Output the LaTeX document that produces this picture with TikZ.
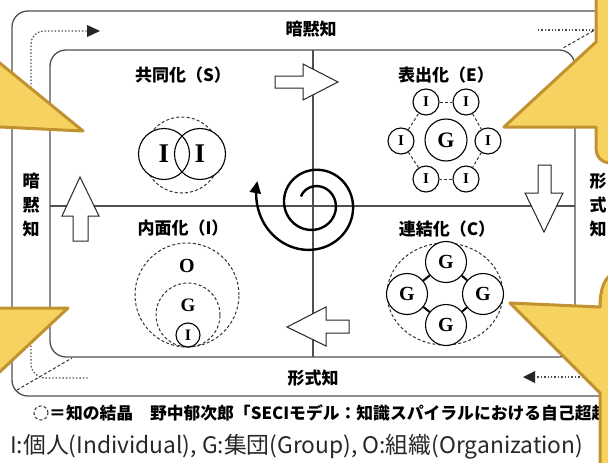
\documentclass[tikz,border=0pt]{standalone}
\usepackage{fontspec}
\newfontfamily\jp{Noto Sans CJK JP}
\newfontfamily\tms{Liberation Serif}
\usetikzlibrary{arrows.meta,shapes.geometric}
\definecolor{framec}{RGB}{80,80,80}
\definecolor{yfill}{RGB}{246,210,96}
\definecolor{ygold}{RGB}{194,146,48}
\definecolor{txt}{RGB}{40,40,40}
\begin{document}
\begin{tikzpicture}[x=1pt,y=-1pt,
  fr/.style={draw=framec,line width=1.3pt},
  blk/.style={draw=black!85,fill=white,line width=1pt,line join=miter},
  dotl/.style={draw=black!70,line width=1.3pt,dash pattern=on 1.4pt off 2pt},
  dashl/.style={draw=black!80,line width=1pt,dash pattern=on 3pt off 2.2pt},
  sc/.style={circle,draw=black,line width=1.1pt,inner sep=0,fill=white},
  dc/.style={circle,dashl,inner sep=0},
  ttl/.style={font=\jp\bfseries\fontsize{17}{17}\selectfont,inner sep=0},
  lab/.style={font=\jp\bfseries\fontsize{17}{24}\selectfont,inner sep=0,align=center},
  yel/.style={fill=yfill,draw=ygold,line width=3pt,line join=round},
  ser/.style={font=\tms\bfseries\fontsize{#1}{#1}\selectfont},
]
\useasboundingbox (0,0) rectangle (608,463);
\clip (0,0) rectangle (608,463);
\fill[white] (0,0) rectangle (608,463);
% frames
\draw[fr,rounded corners=16] (12,11) rectangle (625,396);
\draw[fr,rounded corners=16] (50,50) rectangle (575,357);
\draw[fr] (50,206) -- (575,206);
\draw[fr] (313,50) -- (313,357);
% corner guides
\draw[dashl] (17,390) -- (72,358);
\draw[dashl] (625,13) -- (563,48);
\draw[dotl,rounded corners=13] (31,115) -- (31,31) -- (88,31);
\fill[black!85] (87,25) -- (100,31) -- (87,37) -- cycle;
\draw[dotl,rounded corners=14] (31,315) -- (31,378) -- (88,378);
\draw[dotl] (538,30) -- (600,30);
\draw[dotl] (600,377) -- (534,377);
\fill[black!85] (535,371) -- (523,377) -- (535,383) -- cycle;
% labels
\node[ttl] (tTop) at (311,29) {暗黙知};
\node[ttl] (tBot) at (313,378) {形式知};
\node[lab] (tLeft) at (31,205) {暗\\黙\\知};
\node[lab] (tRight) at (598,205) {形\\式\\知};
\node[ttl] (qS) at (183,75) {共同化（S）};
\node[ttl] (qE) at (446,75) {表出化（E）};
\node[ttl] (qI) at (183,228) {内面化（I）};
\node[ttl] (qC) at (447,229) {連結化（C）};
% S
\node[dc,minimum size=76] (sD) at (182,155) {};
\fill[white] (164,154) circle (25.5) (200,154) circle (25.5);
\node[circle,draw,line width=1.1pt,minimum size=51,inner sep=0,ser=27] (sI1) at (164,154) {I};
\node[circle,draw,line width=1.1pt,minimum size=51,inner sep=0,ser=27] (sI2) at (200,154) {I};
% E
\node[sc,minimum size=42,ser=22] (eG) at (446,140) {G};
\node[sc,minimum size=26,ser=15] (e1) at (426,102) {I};
\node[sc,minimum size=26,ser=15] (e2) at (466,102) {I};
\node[sc,minimum size=26,ser=15] (e3) at (401,141) {I};
\node[sc,minimum size=26,ser=15] (e4) at (488,141) {I};
\node[sc,minimum size=26,ser=15] (e5) at (426,179) {I};
\node[sc,minimum size=26,ser=15] (e6) at (466,179) {I};
\draw[dashl] (e1) -- (e2);
\draw[dashl] (e2) -- (e4);
\draw[dashl] (e4) -- (e6);
\draw[dashl] (e6) -- (e5);
\draw[dashl] (e5) -- (e3);
\draw[dashl] (e3) -- (e1);
% I
\node[dc,minimum size=104] (iO) at (187,295) {};
\node[dc,minimum size=64] (iG) at (188,315) {};
\node[sc,minimum size=24,ser=16] (iI) at (188,335) {I};
\node[ser=20,inner sep=0] (iOl) at (187,266) {O};
\node[ser=19,inner sep=0] (iGl) at (188,305) {G};
% C
\node[ellipse,dashl,minimum width=116,minimum height=102,inner sep=0] (cE) at (445,294) {};
\node[sc,minimum size=41,ser=20] (cT) at (446,262) {G};
\node[sc,minimum size=41,ser=20] (cL) at (407,294) {G};
\node[sc,minimum size=41,ser=20] (cR) at (483,294) {G};
\node[sc,minimum size=41,ser=20] (cB) at (446,325) {G};
\draw[line width=2pt] (cT) -- (cL);
\draw[line width=2pt] (cT) -- (cR);
\draw[line width=2pt] (cB) -- (cL);
\draw[line width=2pt] (cB) -- (cR);
% block arrows
\draw[blk] (275,76) -- (303,76) -- (303,64) -- (338,82) -- (303,100) -- (303,88) -- (275,88) -- cycle;
\draw[blk] (538,165) -- (551,165) -- (551,193) -- (563,193) -- (544,232) -- (525,193) -- (538,193) -- cycle;
\draw[blk] (73,241) -- (73,216) -- (62,216) -- (80,177) -- (99,216) -- (88,216) -- (88,241) -- cycle;
\draw[blk] (349,320) -- (326,320) -- (326,307) -- (287,327) -- (326,346) -- (326,333) -- (349,333) -- cycle;
% spiral
\draw[line width=2.4pt,-{Triangle[length=12pt,width=11pt]}] plot[domain=0:712,samples=260,smooth,variable=\t] ({314+(15+0.045*\t+14*(\t/712)^8)*cos(150-\t)},{204-(15+0.045*\t+14*(\t/712)^8)*sin(150-\t)});
% caption
\node[dc,minimum size=14] (capC) at (41,413) {};
\node[anchor=west,font=\jp\bfseries\fontsize{16.8}{16.8}\selectfont,inner sep=0] (cap) at (49,413) {＝知の結晶　野中郁次郎「SECIモデル：知識スパイラルにおける自己超越};
\node[anchor=west,font=\jp\fontsize{22.8}{22.8}\selectfont,inner sep=0,text=txt] (legend) at (10,447) {I:個人(Individual), G:集団(Group), O:組織(Organization)};
% callout tails
\draw[yel] (-10,55) -- (83,131) -- (-10,126.5) -- cycle;
\draw[yel] (-10,308) -- (68,308) -- (-10,381) -- cycle;
\draw[yel] (596,-10) -- (596,42) -- (504,127) -- (596,127) -- (596,147) .. controls (596,158) and (602,163) .. (612,163) -- (630,163) -- (630,-10) -- cycle;
\draw[yel] (630,272) -- (615,273) .. controls (604,276) and (600,290) .. (600,307) -- (510,303) -- (600,393) -- (600,475) -- (630,475) -- cycle;
\end{tikzpicture}
\end{document}
